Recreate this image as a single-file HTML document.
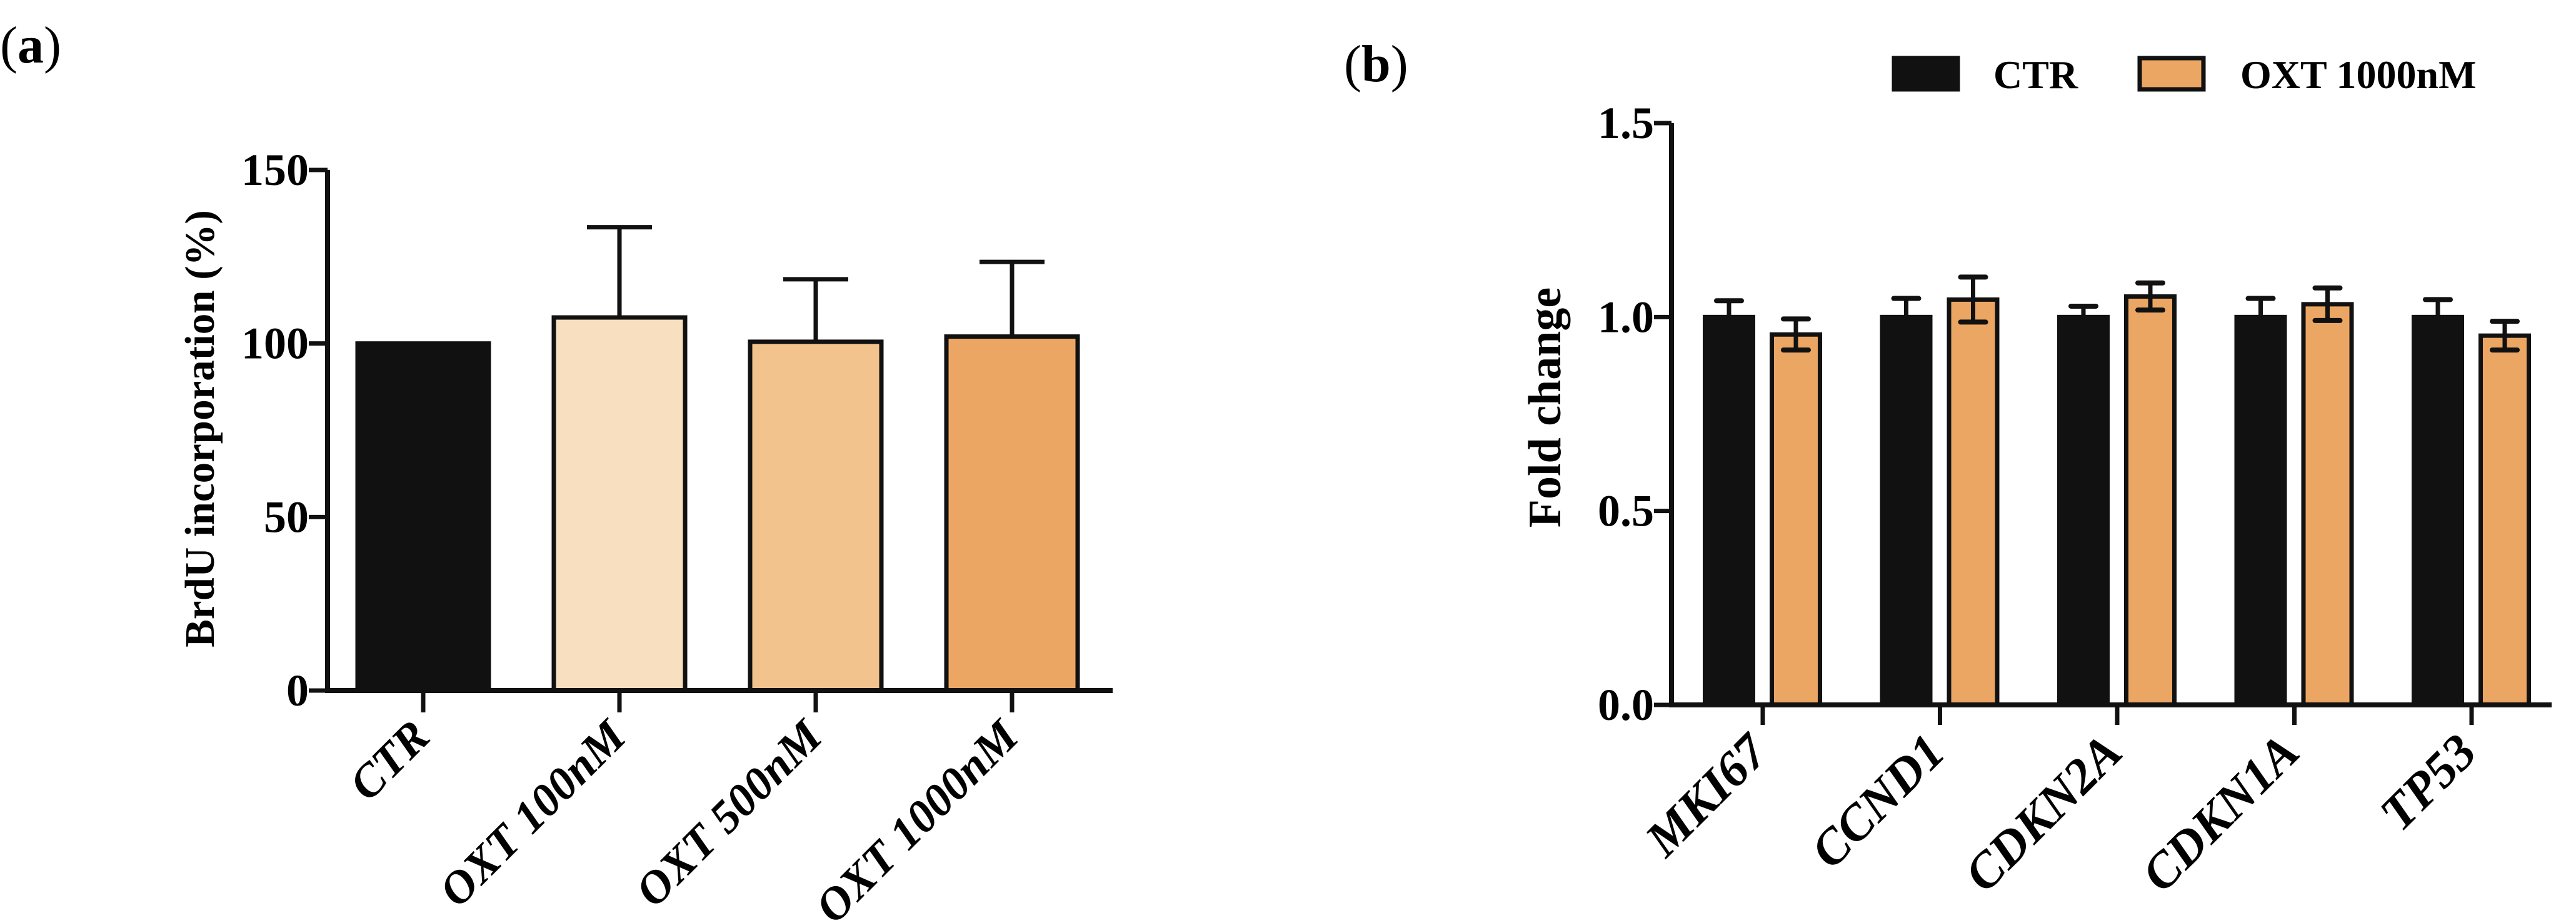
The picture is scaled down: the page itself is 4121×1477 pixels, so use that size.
<!DOCTYPE html>
<html><head><meta charset="utf-8"><style>
html,body{margin:0;padding:0;background:#fff;}
svg{display:block;font-family:"Liberation Serif",serif;font-weight:bold;}
</style></head><body>
<svg width="4121" height="1477" viewBox="0 0 4121 1477">
<text x="0" y="100" font-size="84" font-weight="normal">(<tspan font-weight="bold">a</tspan>)</text>
<text x="2150" y="130" font-size="84" font-weight="normal">(<tspan font-weight="bold">b</tspan>)</text>
<g id="chartA"></g>
<g id="chartB"></g>
</svg>
<script>
const aCategories = ["CTR","OXT 100nM","OXT 500nM","OXT 1000nM"];
const aValues = [100, 107.5, 100.5, 102];
const aErrors = [0, 26, 18, 21.5];
const aColors = ["#111111","#f8dfbf","#f3c38e","#eca664"];
const aTicks = [0,50,100,150];

const bCategories = ["MKI67","CCND1","CDKN2A","CDKN1A","TP53"];
const bCtr = [1.0, 1.0, 1.0, 1.0, 1.0];
const bCtrErr = [0.042, 0.048, 0.028, 0.048, 0.045];
const bOxt = [0.955, 1.045, 1.053, 1.033, 0.952];
const bOxtErr = [0.04, 0.058, 0.035, 0.042, 0.037];
const bTicks = [0.0, 0.5, 1.0, 1.5];
const bTickLabels = ["0.0","0.5","1.0","1.5"];
const bSeriesNames = ["CTR","OXT 1000nM"];

const NS="http://www.w3.org/2000/svg";
function mk(parent, tag, attrs){const e=document.createElementNS(NS,tag);for(const k in attrs)e.setAttribute(k,attrs[k]);parent.appendChild(e);return e;}

// Panel A
(function(){
  const g=document.getElementById('chartA');
  const x0=524, y0=1105, yTop=272, xEnd=1780;
  const ya=v=>y0-(v/150)*(y0-yTop);
  const xa=i=>677+i*314;
  const bw=210;
  aValues.forEach((v,i)=>{
    const cx=xa(i);
    if(aErrors[i]>0){
      const l=mk(g,'line',{x1:cx,x2:cx,y1:ya(v),y2:ya(v+aErrors[i]),stroke:'#111','stroke-width':7});
      
      
      const c=mk(g,'line',{x1:cx-52,x2:cx+52,y1:ya(v+aErrors[i]),y2:ya(v+aErrors[i]),stroke:'#111','stroke-width':7});
      
      
    }
    const r=mk(g,'rect',{x:cx-bw/2,y:ya(v),width:bw,height:y0-ya(v),fill:aColors[i],stroke:'#111','stroke-width':7});
    
    
    const t=mk(g,'line',{x1:cx,x2:cx,y1:y0,y2:y0+35,stroke:'#111','stroke-width':7});
    
    
    const lb=mk(g,'text',{x:cx+14,y:y0+78,'font-size':74,'font-style':'italic','text-anchor':'end',transform:`rotate(-45 ${cx+14} ${y0+78})`});
    lb.textContent=aCategories[i];
    
    
  });
  const ax=mk(g,'path',{d:`M${x0} ${yTop} V${y0} H${xEnd}`,fill:'none',stroke:'#111','stroke-width':8});
  
  
  aTicks.forEach(v=>{
    const t=mk(g,'line',{x1:x0-30,x2:x0,y1:ya(v),y2:ya(v),stroke:'#111','stroke-width':7});
    
    
    const lb=mk(g,'text',{x:x0-30,y:ya(v)+24,'font-size':72,'text-anchor':'end'});
    lb.textContent=v;
    
    
  });
  const yt=mk(g,'text',{x:342,y:686,'font-size':67,'text-anchor':'middle',transform:'rotate(-90 342 686)'});
  yt.textContent='BrdU incorporation (%)';
  
  
})();

// Panel B
(function(){
  const g=document.getElementById('chartB');
  const x0=2674, y0=1128, yTop=197, xEnd=4082;
  const ya=v=>y0-(v/1.5)*(y0-yTop);
  const xa=i=>2820+i*283.5;
  const bw=77;
  function bar(cx,v,e,fill,name,sym){
    const ln=mk(g,'line',{x1:cx,x2:cx,y1:ya(v+e),y2:sym?ya(v-e):ya(v),stroke:'#111','stroke-width':7});
    
    
    const r=mk(g,'rect',{x:cx-bw/2,y:ya(v),width:bw,height:y0-ya(v),fill:fill,stroke:'#111','stroke-width':7});
    
    
    const l2=mk(g,'line',{x1:cx,x2:cx,y1:ya(v+e),y2:sym?ya(v-e):ya(v),stroke:'#111','stroke-width':7});
    
    
    const caps=sym?[v+e,v-e]:[v+e];
    caps.forEach(cv=>{
      const c=mk(g,'line',{x1:cx-20,x2:cx+20,y1:ya(cv),y2:ya(cv),stroke:'#111','stroke-width':8,'stroke-linecap':'round'});
      
      
    });
  }
  bCategories.forEach((c,i)=>{
    const cx=xa(i);
    bar(cx-54,bCtr[i],bCtrErr[i],'#111111','bar-ctr-'+c.toLowerCase(),false);
    bar(cx+53,bOxt[i],bOxtErr[i],'#eca664','bar-oxt-'+c.toLowerCase(),true);
    const t=mk(g,'line',{x1:cx,x2:cx,y1:y0,y2:y0+32,stroke:'#111','stroke-width':7});
    
    
    const lx=cx+12, ly=y0+80;
    const lb=mk(g,'text',{x:lx,y:ly,'font-size':80,'font-style':'italic','text-anchor':'end',transform:`rotate(-45 ${lx} ${ly})`});
    lb.textContent=c;
    
    
  });
  const ax=mk(g,'path',{d:`M${x0} ${yTop} V${y0} H${xEnd}`,fill:'none',stroke:'#111','stroke-width':8});
  
  
  bTicks.forEach((v,i)=>{
    const t=mk(g,'line',{x1:x0-28,x2:x0,y1:ya(v),y2:ya(v),stroke:'#111','stroke-width':7});
    
    
    const lb=mk(g,'text',{x:x0-28,y:ya(v)+24,'font-size':72,'text-anchor':'end'});
    lb.textContent=bTickLabels[i];
    
    
  });
  const yt=mk(g,'text',{x:2496,y:652,'font-size':74,'text-anchor':'middle',transform:'rotate(-90 2496 652)'});
  yt.textContent='Fold change';
  
  
  const fills=['#111111','#eca664'];
  const lxs=[3030,3423], txs=[3189,3584];
  bSeriesNames.forEach((n,i)=>{
    const r=mk(g,'rect',{x:lxs[i],y:93,width:102,height:50,fill:fills[i],stroke:'#111','stroke-width':7});
    
    
    const t=mk(g,'text',{x:txs[i],y:141,'font-size':64});
    t.textContent=n;
    
    
  });
})();
</script>
</body></html>
